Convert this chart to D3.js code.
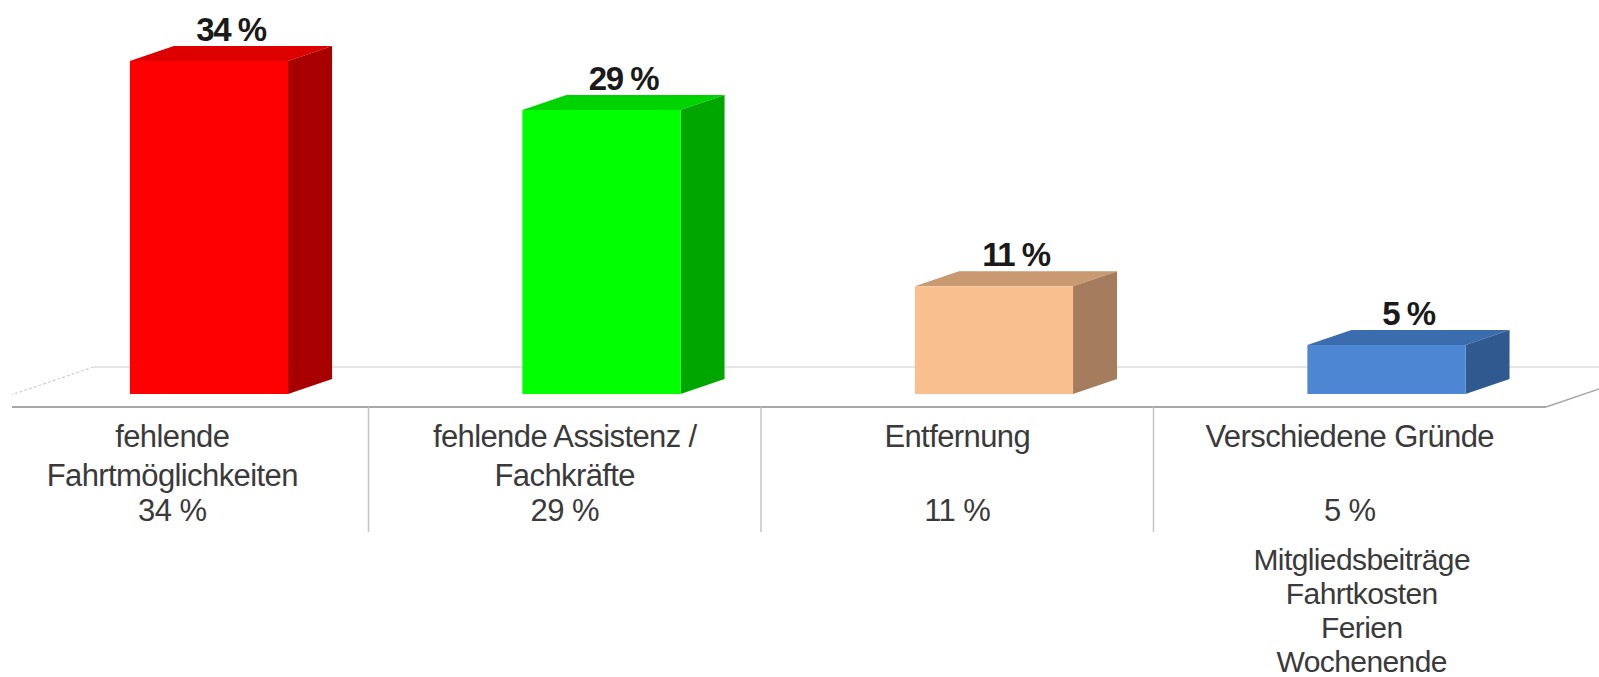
<!DOCTYPE html>
<html>
<head>
<meta charset="utf-8">
<script src="https://cdn.jsdelivr.net/npm/d3@7"></script>
<style>
  html, body { margin: 0; padding: 0; background: #ffffff; }
  #chart { width: 1599px; height: 677px; overflow: hidden; }
  text { font-family: "Liberation Sans", Arial, sans-serif; }
</style>
</head>
<body>
<div id="chart"></div>
<script>
// chart data
const categories = ["fehlende Fahrtmöglichkeiten", "fehlende Assistenz / Fachkräfte", "Entfernung", "Verschiedene Gründe"];
const values = [34, 29, 11, 5];
const labelLines = [["fehlende", "Fahrtmöglichkeiten"], ["fehlende Assistenz /", "Fachkräfte"], ["Entfernung"], ["Verschiedene Gründe"]];
const noteLines = ["Mitgliedsbeiträge", "Fahrtkosten", "Ferien", "Wochenende"];
const frontColors = ["#ff0000", "#00ff00", "#f9bf8f", "#4d87d4"];
const topColors = ["#dd0000", "#00d400", "#c99a72", "#3b6cae"];
const sideColors = ["#a80000", "#00a600", "#a67c5e", "#30598f"];

const width = 1599, height = 677;

const svg = d3.select("#chart")
    .append("svg")
    .attr("width", width)
    .attr("height", height);

// band per category, floor runs along the whole range
const x = d3.scaleBand()
    .domain(categories)
    .range([-24, 1546]);

const y = d3.scaleLinear()
    .domain([0, 34])
    .range([394, 61]);

const barOffset = x.bandwidth() * 0.392;
const barWidth = x.bandwidth() * 0.403;
const depthX = 44, depthY = 15;       // bar depth
const floorFront = 407, floorBack = 367;
const floorDepthX = (floorFront - floorBack) * depthX / depthY;

// floor
const floor = svg.append("g");
floor.append("line")
    .attr("x1", x.range()[0] + floorDepthX).attr("y1", floorBack)
    .attr("x2", width).attr("y2", floorBack)
    .attr("stroke", "#dcdcdc").attr("stroke-width", 1.5);
floor.append("line")
    .attr("x1", x.range()[0] + floorDepthX).attr("y1", floorBack)
    .attr("x2", 12).attr("y2", floorBack + (x.range()[0] + floorDepthX - 12) * depthY / depthX)
    .attr("stroke", "#cfcfcf").attr("stroke-width", 1.2)
    .attr("stroke-dasharray", "3,2");
floor.append("line")
    .attr("x1", 12).attr("y1", floorFront)
    .attr("x2", x.range()[1]).attr("y2", floorFront)
    .attr("stroke", "#a8a8a8").attr("stroke-width", 2);
floor.append("line")
    .attr("x1", x.range()[1]).attr("y1", floorFront)
    .attr("x2", x.range()[1] + floorDepthX).attr("y2", floorBack)
    .attr("stroke", "#a8a8a8").attr("stroke-width", 1.5);

// separators between categories
svg.selectAll(".sep")
    .data(categories.slice(1))
    .enter()
    .append("line")
    .attr("class", "sep")
    .attr("x1", d => x(d)).attr("x2", d => x(d))
    .attr("y1", floorFront).attr("y2", 532)
    .attr("stroke", "#c4c4c4").attr("stroke-width", 1.5);

// 3D bars
const bars = svg.selectAll(".bar")
    .data(categories)
    .enter()
    .append("g")
    .attr("class", "bar");

bars.append("polygon")
    .attr("points", (d, i) => {
        const x0 = x(d) + barOffset, x1 = x0 + barWidth, t = y(values[i]);
        return [[x0, t], [x0 + depthX, t - depthY], [x1 + depthX, t - depthY], [x1, t]].join(" ");
    })
    .attr("fill", (d, i) => topColors[i]);

bars.append("polygon")
    .attr("points", (d, i) => {
        const x1 = x(d) + barOffset + barWidth, t = y(values[i]), b = y(0);
        return [[x1, b], [x1 + depthX, b - depthY], [x1 + depthX, t - depthY], [x1, t]].join(" ");
    })
    .attr("fill", (d, i) => sideColors[i]);

bars.append("rect")
    .attr("x", d => x(d) + barOffset)
    .attr("y", (d, i) => y(values[i]))
    .attr("width", barWidth)
    .attr("height", (d, i) => y(0) - y(values[i]))
    .attr("fill", (d, i) => frontColors[i]);

// value labels above bars
bars.append("text")
    .attr("x", d => x(d) + barOffset + (barWidth + depthX) / 2)
    .attr("y", (d, i) => y(values[i]) - depthY - 5)
    .attr("text-anchor", "middle")
    .attr("font-size", "33px")
    .attr("font-weight", "bold")
    .attr("letter-spacing", "-1.5px")
    .attr("fill", "#1a1a1a")
    .text((d, i) => `${values[i]} %`);

// category labels below the floor
const labels = svg.selectAll(".cat")
    .data(categories)
    .enter()
    .append("text")
    .attr("class", "cat")
    .attr("text-anchor", "middle")
    .attr("font-size", "31px")
    .attr("letter-spacing", "-0.6px")
    .attr("fill", "#3a3a3a");

labels.each(function (d, i) {
    const cx = x(d) + x.bandwidth() / 2;
    const t = d3.select(this);
    labelLines[i].forEach((line, j) => {
        t.append("tspan").attr("x", cx).attr("y", 447 + j * 39).text(line);
    });
    t.append("tspan").attr("x", cx).attr("y", 521).text(`${values[i]} %`);
});

// extra notes for the last category
const last = categories[categories.length - 1];
svg.append("g")
    .selectAll("text")
    .data(noteLines)
    .enter()
    .append("text")
    .attr("x", x(last) + x.bandwidth() / 2 + 12)
    .attr("y", (d, i) => 570 + i * 34)
    .attr("text-anchor", "middle")
    .attr("font-size", "30px")
    .attr("letter-spacing", "-0.6px")
    .attr("fill", "#3a3a3a")
    .text(d => d);
</script>
</body>
</html>
